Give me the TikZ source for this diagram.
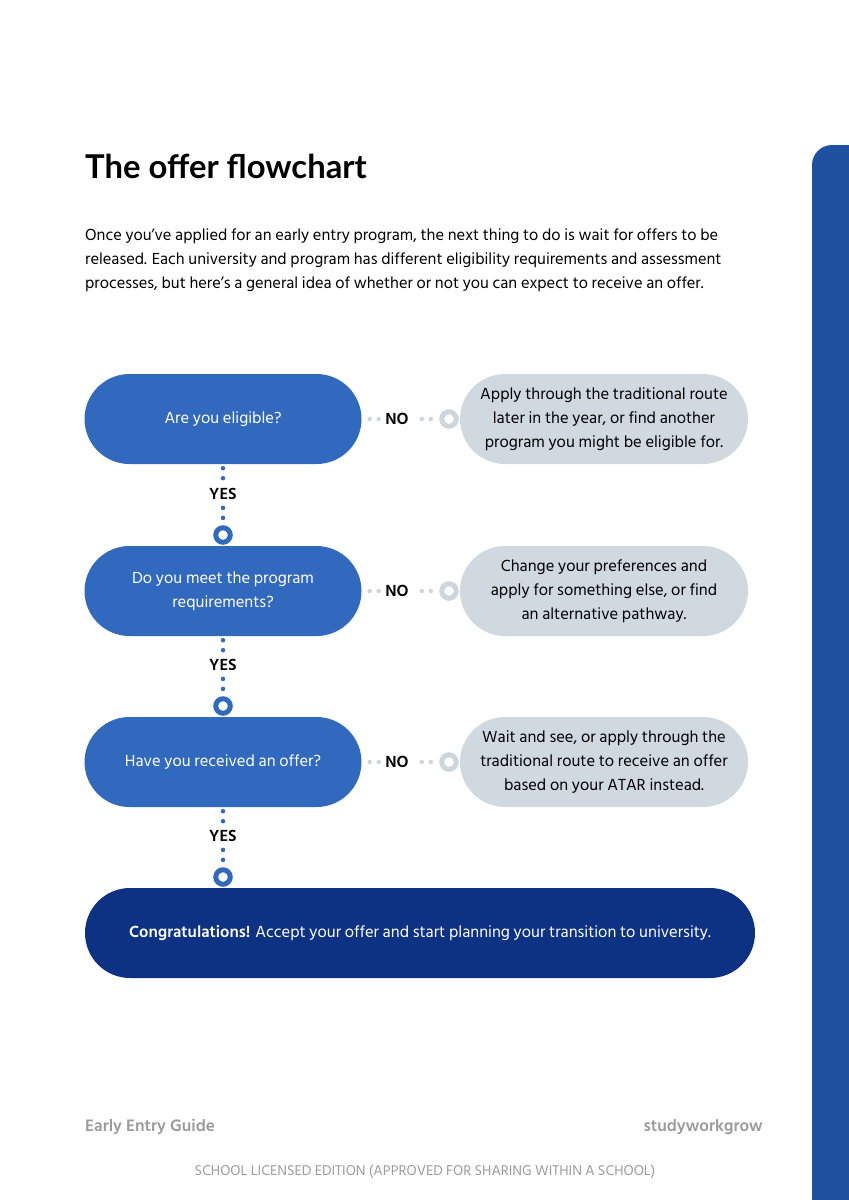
\documentclass[tikz,border=0pt]{standalone}
\usepackage{fontspec}
\setmainfont{Hind Siliguri}
\newfontfamily\titlefont{Lato}
\usetikzlibrary{positioning}
\definecolor{qblue}{HTML}{3169BF}
\definecolor{navy}{HTML}{0E3283}
\definecolor{agray}{HTML}{D0D8E0}
\definecolor{ringgray}{HTML}{CDD5DD}
\definecolor{barblue}{HTML}{1E52A0}
\definecolor{footgray}{HTML}{9B9B9B}
\begin{document}
\begin{tikzpicture}[x=1pt,y=-1pt,line cap=round,
	question/.style={fill=qblue,text=white,rounded corners=45pt,minimum width=277pt,minimum height=90pt,align=center,font=\fontsize{16.5}{24}\selectfont},
	answer/.style={fill=agray,text=black,rounded corners=45pt,minimum width=288pt,minimum height=90pt,align=center,font=\fontsize{16.5}{24}\selectfont},
	ring/.style={circle,draw=#1,line width=5pt,minimum size=14.5pt,inner sep=0pt,fill=white},
	lab/.style={font=\bfseries\fontsize{16.5}{16}\selectfont,inner sep=3pt},
	yesdots/.style={draw=qblue,line width=4.5pt,dash pattern=on 0pt off 10pt},
	nodots/.style={draw=ringgray,line width=4.5pt,dash pattern=on 0pt off 9pt}]
	\useasboundingbox (0,0) rectangle (849,1200);
	\fill[barblue,rounded corners=20pt] (812,145) rectangle (880,1240);
	\node[anchor=base west,inner sep=0pt,font=\titlefont\bfseries\fontsize{32.8}{38}\selectfont] (title) at (85,178) {The offer flowchart};
	\node[anchor=north west,align=left,inner sep=0pt,font=\fontsize{16.4}{24}\selectfont] (intro) at (85,229) {Once you’ve applied for an early entry program, the next thing to do is wait for offers to be\\released. Each university and program has different eligibility requirements and assessment\\processes, but here’s a general idea of whether or not you can expect to receive an offer.};
	\node[question] (q1) at (223,419) {Are you eligible?};
	\node[question] (q2) at (223,591) {Do you meet the program\\requirements?};
	\node[question] (q3) at (223,762) {Have you received an offer?};
	\node[fill=navy,text=white,rounded corners=45pt,minimum width=670pt,minimum height=90pt,font=\fontsize{16.5}{24}\selectfont] (done) at (420,933) {\textbf{Congratulations!} Accept your offer and start planning your transition to university.};
	\node[answer] (a1) at (604,419) {Apply through the traditional route\\later in the year, or find another\\program you might be eligible for.};
	\node[answer] (a2) at (604,591) {Change your preferences and\\apply for something else, or find\\an alternative pathway.};
	\node[answer] (a3) at (604,762) {Wait and see, or apply through the\\traditional route to receive an offer\\based on your ATAR instead.};
	\foreach \i/\y in {1/419,2/591,3/762}{
		\node[lab] (no\i) at (397,\y) {NO};
		\node[ring=ringgray] (r\i) at (449,\y) {};
		\draw[nodots,shorten <=8pt] (q\i.east) -- (no\i.west);
		\draw[nodots,shorten <=10pt,shorten >=6pt] (no\i.east) -- (r\i.west);
	}
	\foreach \i/\y in {1/494,2/665,3/836}{
		\node[lab] (yes\i) at (223,\y) {YES};
		\node[ring=qblue] (s\i) at (223,\y+41) {};
		\draw[yesdots,shorten <=4pt] (q\i.south) -- (yes\i.north);
		\draw[yesdots,shorten <=5pt,shorten >=6pt] (yes\i.south) -- (s\i.north);
	}
	\node[anchor=base west,inner sep=0pt,text=footgray,font=\bfseries\fontsize{17}{17}\selectfont] (guide) at (85,1131) {Early Entry Guide};
	\node[anchor=base east,inner sep=0pt,text=footgray,font=\bfseries\fontsize{17}{17}\selectfont] (brand) at (763,1131) {studyworkgrow};
	\node[anchor=base,inner sep=0pt,text=footgray,font=\fontsize{14.5}{14}\selectfont] (licence) at (425,1175) {SCHOOL LICENSED EDITION (APPROVED FOR SHARING WITHIN A SCHOOL)};
\end{tikzpicture}
\end{document}
